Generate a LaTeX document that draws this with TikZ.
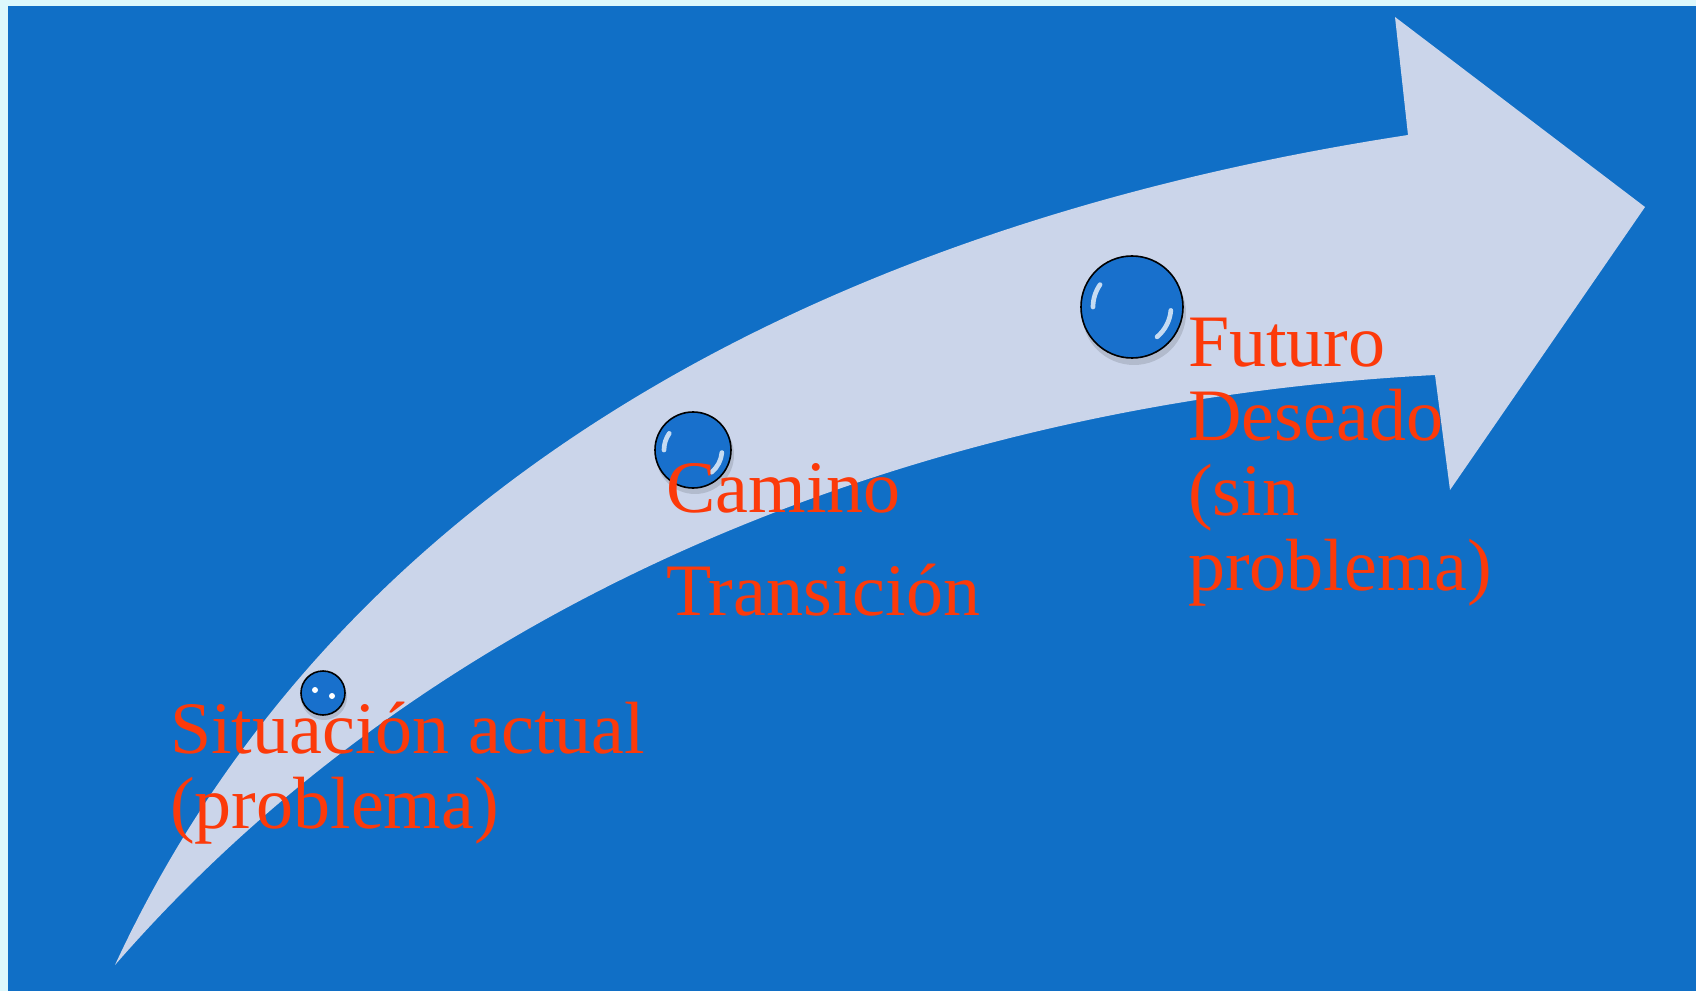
\documentclass[tikz,border=0pt]{standalone}
\usepackage{fontspec}
\setmainfont{Liberation Serif}
\usepackage{tikz}

\definecolor{slideblue}{RGB}{16,111,198}
\definecolor{arrowgrey}{RGB}{203,213,234}
\definecolor{framecyan}{RGB}{221,248,252}
\definecolor{labelred}{RGB}{252,58,10}
\definecolor{bubblein}{RGB}{24,112,204}
\definecolor{bubbleout}{RGB}{110,170,228}

\pgfdeclareradialshading{bubbleshade}{\pgfpoint{0bp}{0bp}}{color(0bp)=(bubblein); color(36bp)=(bubblein); color(47bp)=(bubbleout); color(50bp)=(bubbleout)}

\tikzset{
  bubble/.style={circle, draw=black, line width=1.2pt, inner sep=0pt, shading=bubbleshade},
  glint/.style={white, line width=3.5pt, line cap=round, opacity=0.75},
  bubbleshadow/.style={black, opacity=0.12},
  stagetext/.style={text=labelred, align=left, inner sep=0pt, anchor=base west,
    font=\fontsize{55.5}{56}\selectfont}
}

\begin{document}
\begin{tikzpicture}[x=0.75pt,y=0.75pt,yscale=-1,xscale=1]
\useasboundingbox (0,0) rectangle (1696,991);

%Background
\fill[framecyan] (0,0) rectangle (1696,991);
\fill[slideblue] (8,6) rectangle (1696,991);

%Shape: Curved Arrow
\fill[arrowgrey] (115,965) .. controls (330,500) and (800,228) .. (1408,135)
  -- (1395,17) -- (1645,207) -- (1450,490) -- (1435,375)
  .. controls (950,400) and (450,580) .. (115,965) -- cycle;

%Shape: Circle
\fill[bubbleshadow] (324,697) circle (23);
\node[bubble, minimum size=33pt] (now) at (323,693) {};
\fill[white] ([shift={(-8,-3)}]now.center) circle (3);
\fill[white] ([shift={(9,3)}]now.center) circle (3);
%Shape: Circle
\fill[bubbleshadow] (695,455) circle (39);
\node[bubble, minimum size=57pt] (path) at (693,450) {};
\draw[glint] ([shift={(180:29)}]path.center) arc (180:215:29);
\draw[glint] ([shift={(5:29)}]path.center) arc (5:50:29);
%Shape: Circle
\fill[bubbleshadow] (1134,313) circle (52);
\node[bubble, minimum size=76.5pt] (goal) at (1132,307) {};
\draw[glint] ([shift={(180:39)}]goal.center) arc (180:215:39);
\draw[glint] ([shift={(5:39)}]goal.center) arc (5:50:39);

% Text Node
\node[stagetext] (nowtext) at (170,828) {Situación actual\\(problema)};
% Text Node
\node[stagetext] (pathtext) at (666,615) {Camino\\[21pt]Transición};
% Text Node
\node[stagetext] (goaltext) at (1188,590) {Futuro\\Deseado\\(sin\\problema)};

\end{tikzpicture}
\end{document}
